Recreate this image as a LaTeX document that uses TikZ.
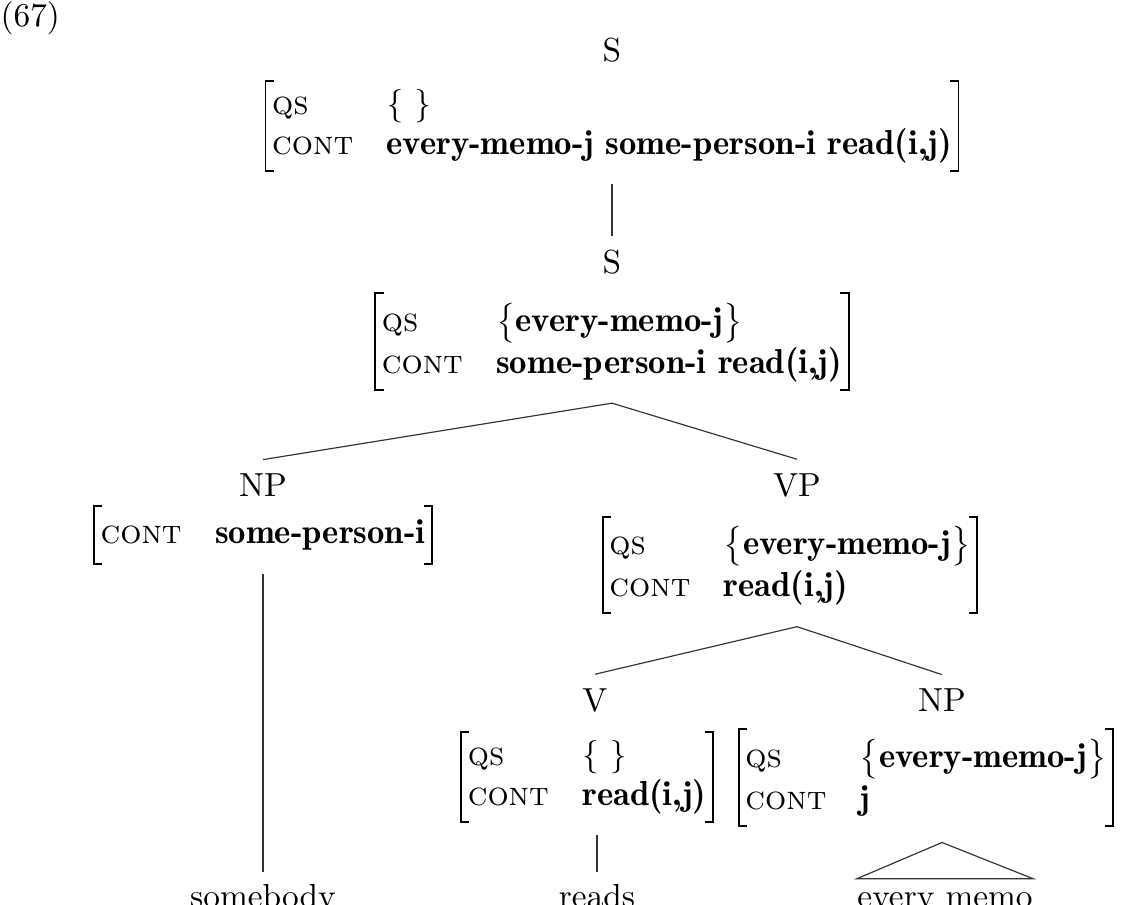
\documentclass[tikz,border=0pt]{standalone}
\usepackage{amsmath}
\usepackage{tikz}
\usetikzlibrary{positioning}
\newcommand{\attr}[1]{\textsc{#1}}
\newcommand{\val}[1]{{\fontseries{b}\fontsize{10.4}{12}\selectfont #1}}
\newcommand{\qset}[1]{\rule[-4.2pt]{0pt}{14.2pt}$\bigl\{$\val{#1}$\bigr\}$}
\newcommand{\fstruct}[1]{\begin{tabular}{@{}l@{\hspace{10pt}}l@{}}#1\end{tabular}}

\begin{document}
\begin{tikzpicture}[x=0.3pt, y=-0.3pt]
\tikzstyle{cat}=[inner sep=4pt]
\tikzstyle{avm}=[inner xsep=1.8pt, inner ysep=1.2pt]
\tikzstyle{leaf}=[anchor=base, inner sep=3.5pt]
\tikzstyle{bracket}=[line width=0.55pt]
\tikzstyle{branch}=[line width=0.35pt, black!80]

\useasboundingbox (0,0) rectangle (1131,905);

\node[anchor=west, inner sep=0] (ex) at (0,18) {(67)};

  % top of the tree
  \node[cat] (S)    at (612,50) {S};
  \node[avm] (Savm) [below of =S, node distance=22.8pt]
    {\fstruct{\attr{qs} & \{\ \} \\ \attr{cont} & \val{every-memo-j some-person-i read(i,j)}\hspace{7.5pt}}};

  \node[cat] (S2)    at (612,262) {S};
  \node[avm] (S2avm) [below of =S2, node distance=23.85pt]
    {\fstruct{\attr{qs} & \qset{every-memo-j} \\ \attr{cont} & \val{some-person-i read(i,j)}\hspace{5pt}}};

  % subject and verb phrase
  \node[cat] (NP)    at (263,485) {NP};
  \node[avm, inner ysep=2.4pt] (NPavm) [below of =NP, node distance=15pt]
    {\fstruct{\attr{cont} & \val{some-person-i}}};

  \node[cat] (VP)    at (797,485) {VP};
  \node[avm] (VPavm) [below of =VP, node distance=24pt, xshift=-2.1pt]
    {\fstruct{\attr{qs} & \qset{every-memo-j} \\ \attr{cont} & \val{read(i,j)}}};

  \node[cat] (V)    at (595,700) {V};
  \node[avm] (Vavm) [below of =V, node distance=23.1pt, xshift=-2.4pt]
    {\fstruct{\attr{qs} & \{\ \} \\ \attr{cont} & \val{read(i,j)}}};

  \node[cat] (NPj)    at (942,700) {NP};
  \node[avm] (NPjavm) [below of =NPj, node distance=23.25pt, xshift=-4.8pt]
    {\fstruct{\attr{qs} & \qset{every-memo-j} \\ \attr{cont} & \val{j}}};

  % words
  \node[leaf] (somebody) at (263,907) {somebody};
  \node[leaf] (reads)    at (597,907) {reads};
  \node[leaf, inner xsep=0pt, inner ysep=3.8pt] (every) at (945,907) {every memo};

  % brackets round the feature structures
  \foreach \n in {Savm,S2avm,NPavm,VPavm,Vavm,NPjavm} {
    \draw[bracket] ([xshift=2.5pt]\n.north west) -- (\n.north west) -- (\n.south west) -- ([xshift=2.5pt]\n.south west);
    \draw[bracket] ([xshift=-2.5pt]\n.north east) -- (\n.north east) -- (\n.south east) -- ([xshift=-2.5pt]\n.south east);
  }

  \draw[branch] ([yshift=-4pt]Savm.south) -- (S2.north);
  \draw[branch] ([yshift=-4pt]S2avm.south) -- (NP.north);
  \draw[branch] ([yshift=-4pt]S2avm.south) -- (VP.north);
  \draw[branch] ([yshift=-3pt]NPavm.south -| NP) -- (somebody.north);
  \draw[branch] ([yshift=-4pt]VPavm.south -| VP) -- (V.north);
  \draw[branch] ([yshift=-4pt]VPavm.south -| VP) -- (NPj.north);
  \draw[branch] ([yshift=-4pt]Vavm.south -| reads) -- (reads.north);
  \draw[branch] ([yshift=-5pt]NPjavm.south -| NPj) -- (every.north west) -- (every.north east) -- cycle;

\end{tikzpicture}
\end{document}
